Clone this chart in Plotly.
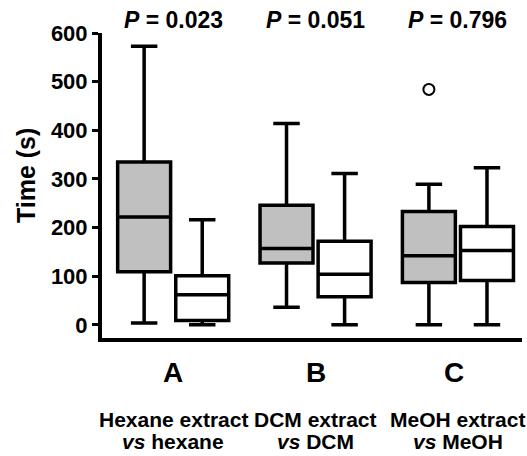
import plotly.graph_objects as go

groups = ["A", "B", "C"]
subtitle1 = ["Hexane extract", "DCM extract", "MeOH extract"]
subtitle2 = ["<i>vs</i> hexane", "<i>vs</i> DCM", "<i>vs</i> MeOH"]
p_values = ["0.023", "0.051", "0.796"]

# extract (gray) boxes
ext_low = [4, 36, 0]
ext_q1 = [109, 127, 87]
ext_med = [222, 157, 142]
ext_q3 = [335, 246, 233]
ext_high = [573, 414, 289]
ext_outliers = [None, None, 484]

# solvent (white) boxes
sol_low = [0, 0, 0]
sol_q1 = [9, 58, 91]
sol_med = [62, 104, 153]
sol_q3 = [101, 172, 202]
sol_high = [216, 311, 323]

y_ticks = [0, 100, 200, 300, 400, 500, 600]

FONT = "Liberation Sans, Arial, sans-serif"
offset = 0.204
bw = 0.372
idx = list(range(len(groups)))
x_ext = [i - offset for i in idx]
x_sol = [i + offset for i in idx]

fig = go.Figure()
fig.add_trace(go.Box(
    x=x_ext, q1=ext_q1, median=ext_med, q3=ext_q3,
    lowerfence=ext_low, upperfence=ext_high, orientation="v",
    width=bw, whiskerwidth=0.5, fillcolor="#c0c0c0",
    line=dict(color="black", width=3.5), boxpoints=False,
    showlegend=False, hoverinfo="skip"))
fig.add_trace(go.Box(
    x=x_sol, q1=sol_q1, median=sol_med, q3=sol_q3,
    lowerfence=sol_low, upperfence=sol_high, orientation="v",
    width=bw, whiskerwidth=0.5, fillcolor="white",
    line=dict(color="black", width=3.5), boxpoints=False,
    showlegend=False, hoverinfo="skip"))

ox = [x_ext[i] for i, v in enumerate(ext_outliers) if v is not None]
oy = [v for v in ext_outliers if v is not None]
fig.add_trace(go.Scatter(
    x=ox, y=oy, mode="markers",
    marker=dict(symbol="circle-open", size=11, color="black", line=dict(width=2)),
    showlegend=False, hoverinfo="skip"))

ann = []
for i, g in enumerate(groups):
    ann.append(dict(x=i, y=-0.112, xref="x", yref="paper", text=f"<b>{g}</b>",
                    showarrow=False, font=dict(family=FONT, size=28, color="black"),
                    xanchor="center", yanchor="middle", xshift=-4 if i == 2 else 0))
    ann.append(dict(x=i, y=-0.266, xref="x", yref="paper", text=f"<b>{subtitle1[i]}</b>",
                    showarrow=False, font=dict(family=FONT, size=21, color="black"),
                    xanchor="center", yanchor="middle"))
    ann.append(dict(x=i, y=-0.339, xref="x", yref="paper", text=f"<b>{subtitle2[i]}</b>",
                    showarrow=False, font=dict(family=FONT, size=21, color="black"),
                    xanchor="center", yanchor="middle"))
    ann.append(dict(x=i, y=1.043, xref="x", yref="paper",
                    text=f"<b><i>P</i> = {p_values[i]}</b>",
                    showarrow=False, font=dict(family=FONT, size=23, color="black"),
                    xanchor="center", yanchor="middle"))
ann.append(dict(x=-0.181, y=0.534, xref="paper", yref="paper", text="<b>Time (s)</b>",
                textangle=-90, showarrow=False,
                font=dict(family=FONT, size=25, color="black"),
                xanchor="center", yanchor="middle"))

fig.update_layout(
    width=527, height=456,
    margin=dict(l=102, r=5, t=33, b=118),
    paper_bgcolor="white", plot_bgcolor="white",
    boxmode="overlay",
    annotations=ann,
    xaxis=dict(range=[-0.5, 2.45], showline=True, linewidth=4, linecolor="black",
               showgrid=False, zeroline=False, showticklabels=False, ticks=""),
    yaxis=dict(range=[-27, 600], showline=True, linewidth=4, linecolor="black",
               showgrid=False, zeroline=False, tickvals=y_ticks,
               ticks="outside", ticklen=6, tickwidth=3, tickcolor="black",
               tickfont=dict(family=FONT, size=22, color="black", weight="bold")),
)

fig.write_html("out.html")
